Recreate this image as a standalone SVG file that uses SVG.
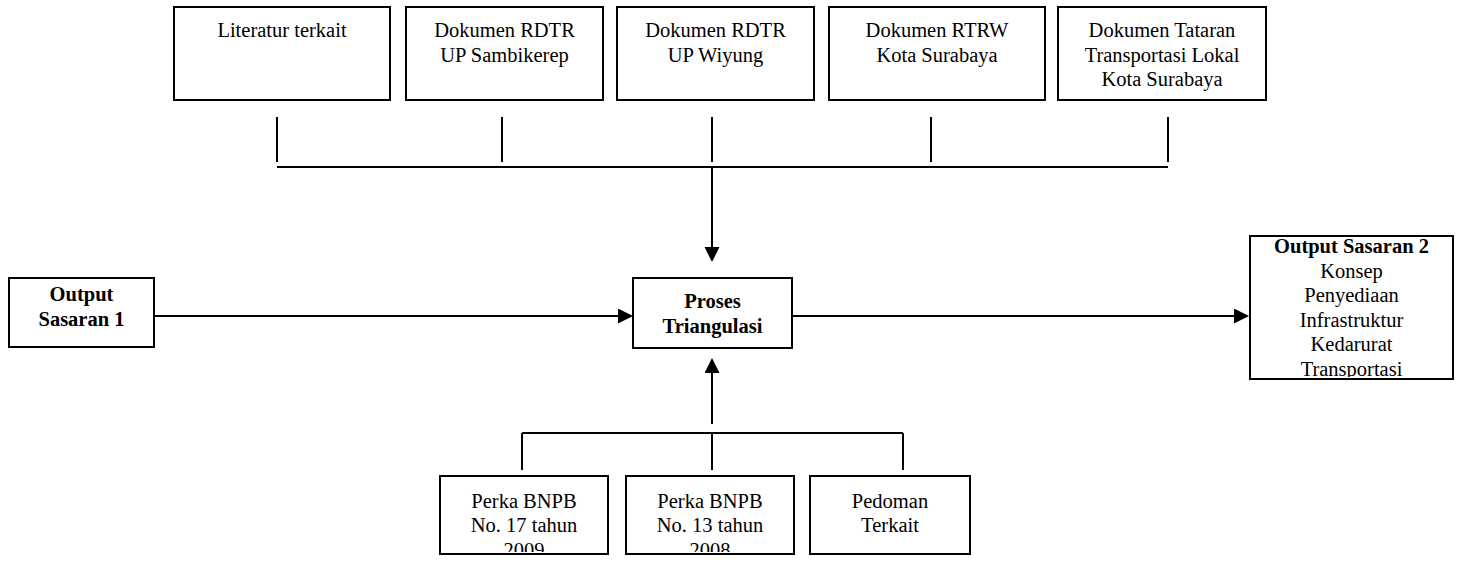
<svg xmlns="http://www.w3.org/2000/svg" width="1457" height="565" viewBox="0 0 1457 565">
  <style>
    .box { fill: #ffffff; stroke: #000000; stroke-width: 2; }
    .wire { fill: none; stroke: #000000; stroke-width: 2; }
    .lbl { font-family: "Liberation Serif", "Times New Roman", serif; font-size: 20.5px; fill: #000000; text-anchor: middle; }
    .bold { font-weight: bold; }
  </style>
  <defs>
    <marker id="arrow" markerUnits="userSpaceOnUse" markerWidth="16" markerHeight="16" refX="7" refY="7.5" orient="auto">
      <path d="M0,0 L15,7.5 L0,15 z" fill="#000000"/>
    </marker>
    <clipPath id="clip-out2"><rect x="1251" y="237" width="201" height="140"/></clipPath>
    <clipPath id="clip-perka17"><rect x="441" y="477" width="166" height="75"/></clipPath>
    <clipPath id="clip-perka13"><rect x="627" y="477" width="166" height="75"/></clipPath>
  </defs>

  <!-- source documents (top row) -->
  <g id="node-literatur">
    <rect class="box" x="174" y="7" width="216" height="93"/>
    <text class="lbl" x="282" y="37">Literatur terkait</text>
  </g>
  <g id="node-rdtr-sambikerep">
    <rect class="box" x="406" y="7" width="197" height="93"/>
    <text class="lbl" x="504.5" y="37">Dokumen RDTR</text>
    <text class="lbl" x="504.5" y="61.5">UP Sambikerep</text>
  </g>
  <g id="node-rdtr-wiyung">
    <rect class="box" x="617" y="7" width="197" height="93"/>
    <text class="lbl" x="715.5" y="37">Dokumen RDTR</text>
    <text class="lbl" x="715.5" y="61.5">UP Wiyung</text>
  </g>
  <g id="node-rtrw">
    <rect class="box" x="829" y="7" width="216" height="93"/>
    <text class="lbl" x="937" y="37">Dokumen RTRW</text>
    <text class="lbl" x="937" y="61.5">Kota Surabaya</text>
  </g>
  <g id="node-tataran">
    <rect class="box" x="1058" y="7" width="208" height="93"/>
    <text class="lbl" x="1162" y="37">Dokumen Tataran</text>
    <text class="lbl" x="1162" y="61.5">Transportasi Lokal</text>
    <text class="lbl" x="1162" y="86">Kota Surabaya</text>
  </g>

  <!-- inputs and outputs of the process -->
  <g id="node-output1">
    <rect class="box" x="9" y="278" width="145" height="69"/>
    <text class="lbl bold" x="81.5" y="301">Output</text>
    <text class="lbl bold" x="81.5" y="325.5">Sasaran 1</text>
  </g>
  <g id="node-proses">
    <rect class="box" x="633" y="278" width="159" height="70"/>
    <text class="lbl bold" x="712.5" y="308">Proses</text>
    <text class="lbl bold" x="712.5" y="332.5">Triangulasi</text>
  </g>
  <g id="node-output2">
    <rect class="box" x="1250" y="236" width="203" height="143"/>
    <g clip-path="url(#clip-out2)">
      <text class="lbl bold" x="1351.5" y="253">Output Sasaran 2</text>
      <text class="lbl" x="1351.5" y="277.5">Konsep</text>
      <text class="lbl" x="1351.5" y="302">Penyediaan</text>
      <text class="lbl" x="1351.5" y="326.5">Infrastruktur</text>
      <text class="lbl" x="1351.5" y="351">Kedarurat</text>
      <text class="lbl" x="1351.5" y="375.5">Transportasi</text>
    </g>
  </g>

  <!-- regulations (bottom row) -->
  <g id="node-perka17">
    <rect class="box" x="440" y="476" width="168" height="78"/>
    <g clip-path="url(#clip-perka17)">
      <text class="lbl" x="524" y="507.5">Perka BNPB</text>
      <text class="lbl" x="524" y="532">No. 17 tahun</text>
      <text class="lbl" x="524" y="556.5">2009</text>
    </g>
  </g>
  <g id="node-perka13">
    <rect class="box" x="626" y="476" width="168" height="78"/>
    <g clip-path="url(#clip-perka13)">
      <text class="lbl" x="710" y="507.5">Perka BNPB</text>
      <text class="lbl" x="710" y="532">No. 13 tahun</text>
      <text class="lbl" x="710" y="556.5">2008</text>
    </g>
  </g>
  <g id="node-pedoman">
    <rect class="box" x="810" y="476" width="160" height="78"/>
    <text class="lbl" x="890" y="507.5">Pedoman</text>
    <text class="lbl" x="890" y="532">Terkait</text>
  </g>

  <!-- connectors -->
  <g id="connectors">
    <!-- top collector -->
    <path class="wire" d="M277,117 V162 M502,117 V162 M712,117 V162 M931,117 V162 M1168,117 V162"/>
    <path class="wire" d="M277,167 H1168"/>
    <path class="wire" d="M712,167 V254" marker-end="url(#arrow)"/>
    <!-- horizontal flow -->
    <path class="wire" d="M154,316 H625" marker-end="url(#arrow)"/>
    <path class="wire" d="M792,316 H1241" marker-end="url(#arrow)"/>
    <!-- bottom collector -->
    <path class="wire" d="M712,424 V366" marker-end="url(#arrow)"/>
    <path class="wire" d="M522,433 H903 M522,433 V470 M712,433 V470 M903,433 V470"/>
  </g>
</svg>
